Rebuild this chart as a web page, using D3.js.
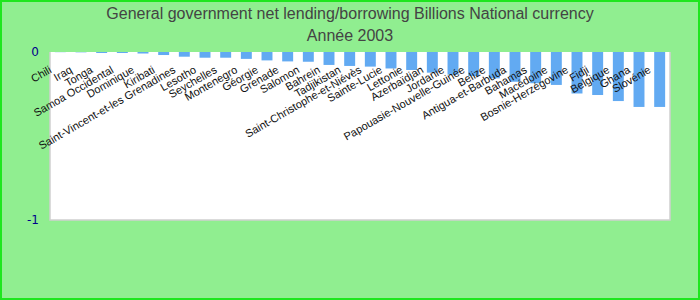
<!DOCTYPE html>
<html lang="fr">
<head>
    <meta charset="UTF-8">
    <title>Net lending/borrowing 2003</title>
    <script src="https://d3js.org/d3.v7.min.js"></script>
    <style>
        body { margin: 0; }
    </style>
</head>
<body>
<script>
    const width = 700;
    const height = 300;

    const countries = ["Chili", "Iraq", "Tonga", "Samoa Occidental", "Dominique", "Kiribati",
        "Saint-Vincent-et-les Grenadines", "Lesotho", "Seychelles", "Montenegro", "Géorgie",
        "Grenade", "Salomon", "Bahrein", "Tadjikistan", "Saint-Christophe-et-Niévès",
        "Sainte-Lucie", "Lettonie", "Azerbaïdjan", "Jordanie", "Papouasie-Nouvelle-Guinée",
        "Belize", "Antigua-et-Barbuda", "Bahamas", "Macédoine", "Bosnie-Herzégovine",
        "Fidji", "Belgique", "Ghana", "Slovénie"];
    const values = [-0.001, -0.002, -0.006, -0.006, -0.009, -0.018,
        -0.028, -0.034, -0.034, -0.041, -0.05,
        -0.056, -0.058, -0.077, -0.083, -0.087,
        -0.098, -0.107, -0.123, -0.135, -0.143,
        -0.157, -0.177, -0.186, -0.196, -0.247,
        -0.256, -0.292, -0.327, -0.327];
    const yTicks = [0, -1];

    const margin = {top: 52, right: 30, bottom: 80, left: 50};

    const svg = d3.select("body").append("svg")
            .attr("width", width).attr("height", height);

    // background + green frame
    svg.append("rect")
            .attr("x", 1).attr("y", 1)
            .attr("width", width - 2).attr("height", height - 2)
            .style("fill", "#90ee90")
            .style("stroke", "#1ee61e")
            .style("stroke-width", 2);

    svg.append("text")
            .attr("x", width / 2).attr("y", 19)
            .attr("text-anchor", "middle")
            .style("font-family", "'Liberation Sans', Arial, sans-serif")
            .style("font-size", "16px")
            .style("fill", "#444")
            .text("General government net lending/borrowing Billions National currency");
    svg.append("text")
            .attr("x", width / 2).attr("y", 41)
            .attr("text-anchor", "middle")
            .style("font-family", "'Liberation Sans', Arial, sans-serif")
            .style("font-size", "16px")
            .style("fill", "#444")
            .text("Année 2003");

    const x = d3.scaleBand()
            .domain(countries)
            .range([margin.left, width - margin.right])
            .paddingInner(0.47)
            .paddingOuter(0.235);

    const y = d3.scaleLinear()
            .domain([-1, 0])
            .range([220, margin.top]);

    // plot area
    svg.append("rect")
            .attr("x", margin.left).attr("y", margin.top)
            .attr("width", width - margin.right - margin.left)
            .attr("height", y(-1) - margin.top)
            .style("fill", "white");

    svg.append("path")
            .attr("d", `M${margin.left},${margin.top}V${y(-1)}H${width - margin.right}V${margin.top}`)
            .style("fill", "none")
            .style("stroke", "#d0d0d0")
            .style("stroke-width", 1.5);

    svg.append("g").attr("class", "bars")
            .selectAll("rect")
            .data(countries)
            .enter()
            .append("rect")
            .attr("x", d => x(d))
            .attr("width", x.bandwidth())
            .attr("y", y(0))
            .attr("height", (d, i) => y(values[i]) - y(0))
            .style("fill", "#62aaf2");

    const yAxis = svg.append("g")
            .attr("transform", `translate(${margin.left - 11},0)`)
            .call(d3.axisLeft(y).tickValues(yTicks).tickSize(0).tickPadding(0).tickFormat(d => String(d)));
    yAxis.select(".domain").remove();
    yAxis.selectAll("text")
            .style("font-family", "'DejaVu Sans', sans-serif")
            .style("font-size", "12px")
            .style("fill", "#00008b");

    svg.append("g").attr("class", "labels")
            .selectAll("text")
            .data(countries)
            .enter()
            .append("text")
            .attr("transform", d => `translate(${x(d) + x.bandwidth() / 2 - 8},72) rotate(-30)`)
            .attr("text-anchor", "end")
            .style("font-family", "'Liberation Sans', Arial, sans-serif")
            .style("font-size", "11px")
            .style("fill", "#111")
            .text(d => d);
</script>
</body>
</html>
